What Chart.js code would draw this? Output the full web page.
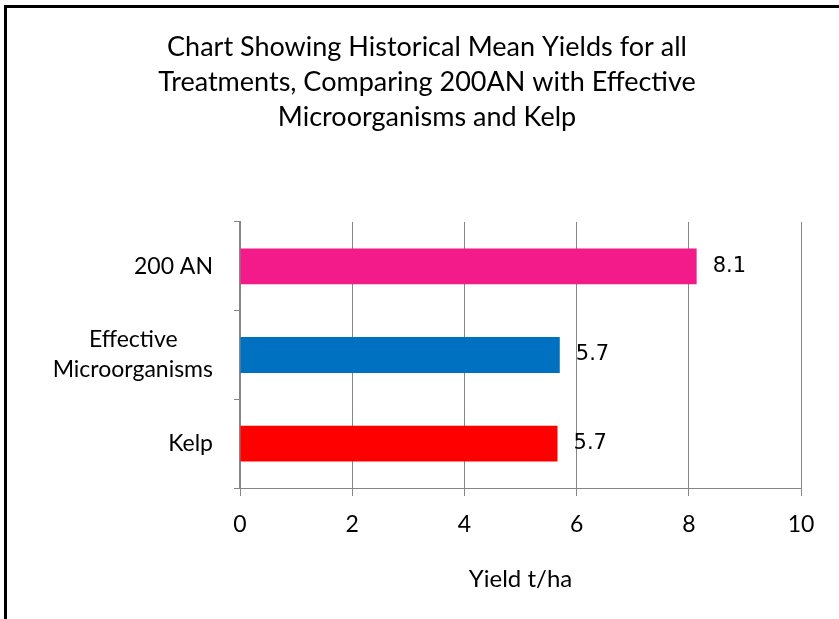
<!DOCTYPE html>
<html>
<head>
<meta charset="utf-8">
<script src="https://cdn.jsdelivr.net/npm/chart.js@4.4.1/dist/chart.umd.min.js"></script>
<style>
  html, body { margin: 0; padding: 0; background: #fff; }
  #grafica { display: block; }
</style>
</head>
<body>
<canvas id="grafica" width="839" height="619"></canvas>
<script>
// datos del gráfico
const tituloLineas = [
  'Chart Showing Historical Mean Yields for all',
  'Treatments, Comparing 200AN with Effective',
  'Microorganisms and Kelp'
];
const categorias = ['200 AN', ['Effective', 'Microorganisms'], 'Kelp'];
const rendimientos = [8.14, 5.70, 5.66];
const coloresBarras = ['#F31B8A', '#0070C0', '#FF0000'];
const ticksX = [0, 2, 4, 6, 8, 10];
const tituloEjeX = 'Yield t/ha';

const FUENTE = 'Lato';
const GRIS = '#868686';

// centrar las líneas de una etiqueta de varias líneas (se rellena con espacios)
const medidor = document.createElement('canvas').getContext('2d');
function centrarLineas(lineas, tamano) {
  if (!Array.isArray(lineas)) return lineas;
  medidor.font = tamano + 'px ' + FUENTE;
  const anchos = lineas.map(l => medidor.measureText(l).width);
  const maximo = Math.max(...anchos);
  const espacio = medidor.measureText(' ').width;
  return lineas.map((l, i) => l + ' '.repeat(Math.round((maximo - anchos[i]) / 2 / espacio)));
}

// fondo blanco, marco negro (arriba e izquierda) y título algo más a la derecha
const marco = {
  id: 'marco',
  afterLayout(chart) {
    // el título de Excel está centrado en todo el gráfico, no en el área útil
    chart.titleBlock.left = 53;
  },
  beforeDraw(chart) {
    const ctx = chart.ctx;
    ctx.save();
    ctx.fillStyle = '#fff';
    ctx.fillRect(0, 0, chart.width, chart.height);
    ctx.restore();
  },
  afterDraw(chart) {
    const ctx = chart.ctx;
    ctx.save();
    ctx.strokeStyle = '#000';
    ctx.lineWidth = 3;
    ctx.beginPath();
    ctx.moveTo(5.5, chart.height);
    ctx.lineTo(5.5, 6.5);
    ctx.lineTo(chart.width, 6.5);
    ctx.stroke();
    ctx.restore();
  }
};

// etiquetas de valor al final de cada barra
const etiquetasValor = {
  id: 'etiquetasValor',
  afterDatasetsDraw(chart) {
    const ctx = chart.ctx;
    const meta = chart.getDatasetMeta(0);
    ctx.save();
    ctx.font = '21px "DejaVu Sans"';
    ctx.fillStyle = '#000';
    ctx.textAlign = 'left';
    ctx.textBaseline = 'middle';
    meta.data.forEach((barra, i) => {
      ctx.fillText(rendimientos[i].toFixed(1), barra.x + 16, barra.y);
    });
    ctx.restore();
  }
};

Chart.defaults.font.family = FUENTE;
Chart.defaults.color = '#000';

const ctx = document.getElementById('grafica').getContext('2d');
const myChart = new Chart(ctx, {
  type: 'bar',
  data: {
    labels: categorias,
    datasets: [{
      data: rendimientos,
      backgroundColor: coloresBarras,
      borderWidth: 0,
      categoryPercentage: 1,
      barPercentage: 0.405
    }]
  },
  options: {
    indexAxis: 'y',
    responsive: false,
    animation: false,
    devicePixelRatio: 1,
    layout: { padding: { left: 40, right: 38, top: 0, bottom: 0 } },
    plugins: {
      legend: { display: false },
      tooltip: { enabled: false },
      title: {
        display: true,
        text: tituloLineas,
        color: '#000',
        font: { family: FUENTE, size: 27, weight: 'normal', lineHeight: 35 / 27 },
        padding: { top: 30, bottom: 87 }
      }
    },
    scales: {
      x: {
        type: 'linear',
        min: ticksX[0],
        max: ticksX[ticksX.length - 1],
        ticks: {
          stepSize: ticksX[1] - ticksX[0],
          color: '#000',
          font: { size: 23 },
          padding: 15
        },
        grid: { color: GRIS, lineWidth: 1, tickLength: 8 },
        border: { color: GRIS, width: 1 },
        title: {
          display: true,
          text: tituloEjeX,
          color: '#000',
          font: { size: 24 },
          padding: { top: 0, bottom: 25 }
        },
        afterFit(escala) { escala.height = 131; }
      },
      y: {
        type: 'category',
        ticks: {
          color: '#000',
          font: { size: 23, lineHeight: 1.3 },
          padding: 21,
          callback: function (valor) {
            return centrarLineas(this.getLabelForValue(valor), 23);
          }
        },
        grid: { drawOnChartArea: false, tickLength: 6, color: GRIS, offset: true },
        border: { color: GRIS, width: 2 },
        afterFit(escala) { escala.width = 200; }
      }
    }
  },
  plugins: [marco, etiquetasValor]
});
</script>
</body>
</html>
